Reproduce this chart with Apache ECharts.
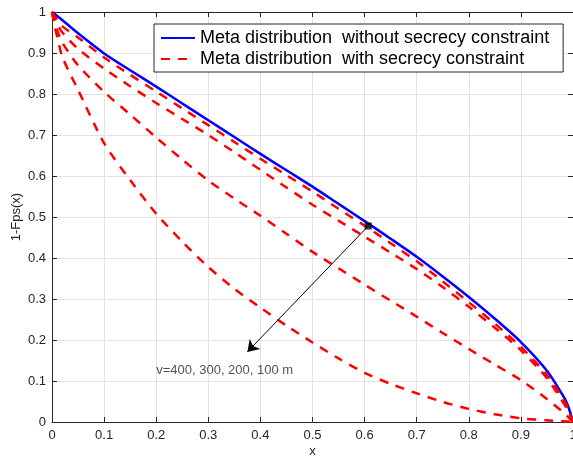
<!DOCTYPE html>
<html>
<head>
<meta charset="utf-8">
<script src="https://cdn.jsdelivr.net/npm/echarts@6/dist/echarts.min.js"></script>
<style>
  html, body { margin: 0; padding: 0; background: #fff; }
  #chart { width: 573px; height: 462px; }
</style>
</head>
<body>
<div id="chart"></div>
<script>
// Sample positions along x (threshold)
const xValues = [0, 0.005, 0.01, 0.02, 0.05, 0.1, 0.15, 0.2, 0.25, 0.3, 0.35, 0.4, 0.45, 0.5,
                 0.55, 0.6, 0.65, 0.7, 0.75, 0.8, 0.85, 0.9, 0.95, 0.98, 0.99, 1];

// Meta distribution without secrecy constraint
const noSecrecy = [1, 0.995, 0.99, 0.98, 0.948, 0.899, 0.858, 0.818, 0.777, 0.736, 0.695, 0.654, 0.614, 0.574,
                   0.532, 0.490, 0.447, 0.403, 0.355, 0.305, 0.252, 0.195, 0.125, 0.066, 0.041, 0];

// Meta distribution with secrecy constraint, v = 400, 300, 200, 100 m
const v400 = [1, 0.99, 0.98, 0.965, 0.938, 0.889, 0.847, 0.806, 0.765, 0.724, 0.683, 0.642, 0.602, 0.562,
              0.52, 0.479, 0.436, 0.392, 0.343, 0.292, 0.24, 0.183, 0.115, 0.058, 0.034, 0];
const v300 = [1, 0.985, 0.97, 0.95, 0.91, 0.862, 0.819, 0.778, 0.739, 0.70, 0.658, 0.615, 0.572, 0.530,
              0.491, 0.452, 0.413, 0.373, 0.329, 0.281, 0.23, 0.175, 0.107, 0.05, 0.028, 0];
const v200 = [1, 0.975, 0.955, 0.925, 0.87, 0.805, 0.75, 0.694, 0.64, 0.589, 0.545, 0.503, 0.459, 0.415,
              0.375, 0.335, 0.296, 0.257, 0.217, 0.178, 0.14, 0.102, 0.056, 0.025, 0.013, 0];
const v100 = [1, 0.965, 0.94, 0.89, 0.81, 0.68, 0.59, 0.508, 0.44, 0.378, 0.325, 0.279, 0.235, 0.194,
              0.155, 0.12, 0.093, 0.07, 0.049, 0.032, 0.019, 0.009, 0.004, 0.002, 0.001, 0];

const seriesNames = ['Meta distribution  without secrecy constraint',
                     'Meta distribution  with secrecy constraint'];

// Annotation: marker on the curves, arrow tip and note text
const markerPoint = [0.607, 0.478];
const arrowTip = [0.375, 0.171];
const noteAnchor = [0.2, 0.127];
const noteText = 'v=400, 300, 200, 100 m';

const FONT = '"Liberation Sans", Arial, Helvetica, sans-serif';
const AXIS_COLOR = '#262626';

const pairs = ys => xValues.map((x, i) => [x, ys[i]]);

const redCurves = [v400, v300, v200, v100].map(ys => ({
  type: 'line',
  name: seriesNames[1],
  data: pairs(ys),
  symbol: 'none',
  showSymbol: false,
  smooth: 0.25,
  color: '#ff0000',
  lineStyle: { color: '#ff0000', width: 2.5, type: [9, 8] },
  z: 3,
  silent: true
}));

const chart = echarts.init(document.getElementById('chart'), null, { renderer: 'canvas' });

const baseAxis = {
  type: 'value',
  min: 0,
  max: 1,
  interval: 0.1,
  axisLine: { show: true, onZero: false, lineStyle: { color: AXIS_COLOR, width: 1 } },
  axisTick: { show: true, inside: true, length: 5, lineStyle: { color: AXIS_COLOR, width: 1 } },
  minorTick: { show: false },
  splitLine: { show: false }
};

chart.setOption({
  animation: false,
  backgroundColor: '#ffffff',
  textStyle: { fontFamily: FONT },
  grid: { left: 52, right: 0, top: 12, bottom: 40, outerBoundsMode: 'none', containLabel: false },
  legend: {
    data: seriesNames,
    orient: 'vertical',
    left: 154,
    top: 24,
    itemWidth: 34,
    itemHeight: 14,
    itemGap: 3,
    padding: [5, 14, 4, 6],
    backgroundColor: '#ffffff',
    borderColor: AXIS_COLOR,
    borderWidth: 1,
    borderRadius: 0,
    selectedMode: false,
    itemStyle: { opacity: 0 },
    textStyle: { fontSize: 18, color: '#000000', fontFamily: FONT }
  },
  xAxis: [
    Object.assign({}, baseAxis, {
      position: 'bottom',
      name: 'x',
      nameLocation: 'middle',
      nameGap: 23,
      nameMoveOverlap: false,
      nameTextStyle: { fontSize: 13, color: AXIS_COLOR, fontFamily: FONT },
      axisLabel: { color: AXIS_COLOR, fontSize: 13, margin: 7, fontFamily: FONT },
      splitLine: { show: true, lineStyle: { color: '#e3e3e3', width: 1 } }
    }),
    Object.assign({}, baseAxis, { position: 'top', axisLabel: { show: false } })
  ],
  yAxis: [
    Object.assign({}, baseAxis, {
      position: 'left',
      name: '1-Fps(x)',
      nameLocation: 'middle',
      nameGap: 29,
      nameMoveOverlap: false,
      nameTextStyle: { fontSize: 13, color: AXIS_COLOR, fontFamily: FONT },
      axisLabel: { color: AXIS_COLOR, fontSize: 13, margin: 6, fontFamily: FONT },
      splitLine: { show: true, lineStyle: { color: '#e3e3e3', width: 1 } }
    }),
    Object.assign({}, baseAxis, { position: 'right', axisLabel: { show: false } })
  ],
  series: [
    {
      type: 'line',
      name: seriesNames[0],
      data: pairs(noSecrecy),
      symbol: 'none',
      showSymbol: false,
      smooth: 0.25,
      color: '#0000ff',
      lineStyle: { color: '#0000ff', width: 2.5 },
      z: 2,
      silent: true
    },
    ...redCurves,
    {
      type: 'scatter',
      name: 'marker',
      data: [markerPoint],
      symbol: 'rect',
      symbolSize: 7,
      itemStyle: { color: '#000000' },
      z: 6,
      silent: true,
      markLine: {
        silent: true,
        symbol: ['none', 'arrow'],
        symbolSize: 11,
        label: { show: false },
        emphasis: { disabled: true },
        lineStyle: { color: '#000000', width: 1, type: 'solid' },
        itemStyle: { color: '#000000' },
        data: [[{ coord: markerPoint }, { coord: arrowTip }]]
      }
    },
    {
      type: 'scatter',
      name: 'note',
      data: [noteAnchor],
      symbolSize: 0,
      silent: true,
      label: {
        show: true,
        position: 'right',
        distance: 0,
        formatter: noteText,
        color: '#262626',
        fontSize: 13,
        fontFamily: FONT
      }
    }
  ]
});
</script>
</body>
</html>
